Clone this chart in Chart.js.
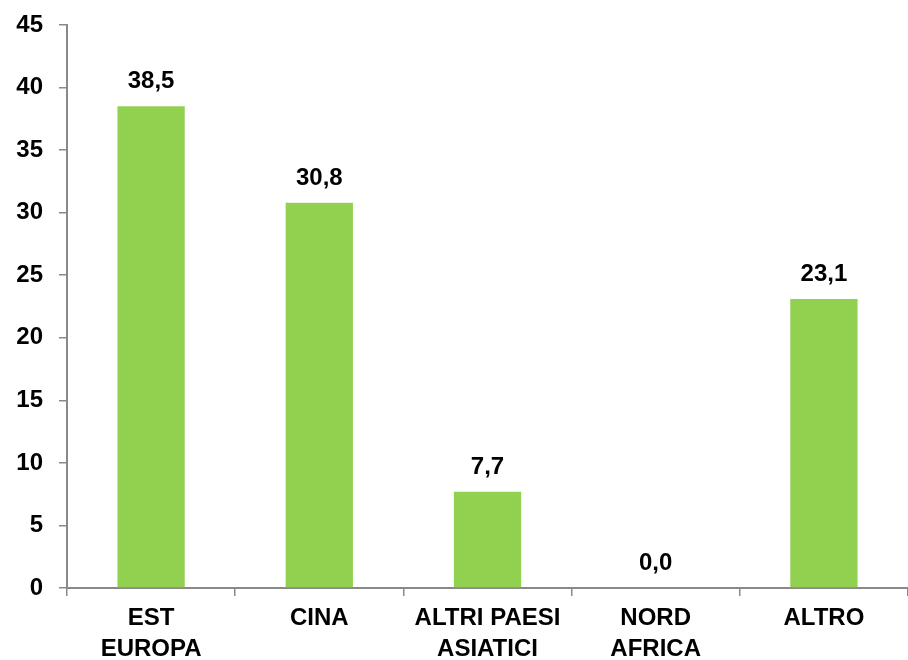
<!DOCTYPE html>
<html>
<head>
<meta charset="utf-8">
<script src="https://cdn.jsdelivr.net/npm/chart.js@4"></script>
<style>
html,body{margin:0;padding:0;background:#fff;overflow:hidden;}
#wrap{width:908px;height:660px;position:relative;}
</style>
</head>
<body>
<div id="wrap"><canvas id="c" width="908" height="660"></canvas></div>
<script>
const categories = [["EST","EUROPA"],["CINA"],["ALTRI PAESI","ASIATICI"],["NORD","AFRICA"],["ALTRO"]];
const values = [38.5, 30.8, 7.7, 0.0, 23.1];
const valueLabels = ["38,5","30,8","7,7","0,0","23,1"];
const yMin = 0, yMax = 45, yStep = 5;

const FONT = "'Liberation Sans', Arial, sans-serif";

const labelPlugin = {
  id: 'valueLabels',
  afterDatasetsDraw(chart) {
    const ctx = chart.ctx;
    const meta = chart.getDatasetMeta(0);
    ctx.save();
    ctx.font = "bold 24px " + FONT;
    ctx.fillStyle = "#000";
    ctx.textAlign = "center";
    ctx.textBaseline = "alphabetic";
    meta.data.forEach((bar, i) => {
      ctx.fillText(valueLabels[i], bar.x, bar.y - 18);
    });
    ctx.restore();
  }
};

new Chart(document.getElementById('c'), {
  type: 'bar',
  data: {
    labels: categories,
    datasets: [{
      data: values,
      backgroundColor: '#92D050',
      borderWidth: 0,
      barPercentage: 0.8,
      categoryPercentage: 0.5
    }]
  },
  options: {
    responsive: false,
    animation: false,
    layout: { padding: { top: 25, right: -4, left: 0, bottom: 0 } },
    plugins: { legend: { display: false }, tooltip: { enabled: false } },
    scales: {
      x: {
        offset: true,
        grid: { display: true, offset: true, drawOnChartArea: false, drawTicks: true, tickLength: 8, color: '#898989', lineWidth: 1.5 },
        border: { display: true, color: '#898989', width: 2 },
        ticks: { color: '#000', font: { family: FONT, size: 24, weight: 'bold', lineHeight: 1.28 }, padding: 7, maxRotation: 0, autoSkip: false },
        afterFit(s) { s.height = 72; s.paddingLeft = 0; s.paddingRight = 0; }
      },
      y: {
        min: yMin, max: yMax,
        grid: { display: true, drawOnChartArea: false, drawTicks: true, tickLength: 8, color: '#898989', lineWidth: 1.5 },
        border: { display: true, color: '#898989', width: 2 },
        ticks: { stepSize: yStep, color: '#000', font: { family: FONT, size: 24, weight: 'bold' }, padding: 16 },
        afterFit(s) { s.width = 67; s.paddingTop = 0; s.paddingBottom = 0; }
      }
    }
  },
  plugins: [labelPlugin]
});
</script>
</body>
</html>
